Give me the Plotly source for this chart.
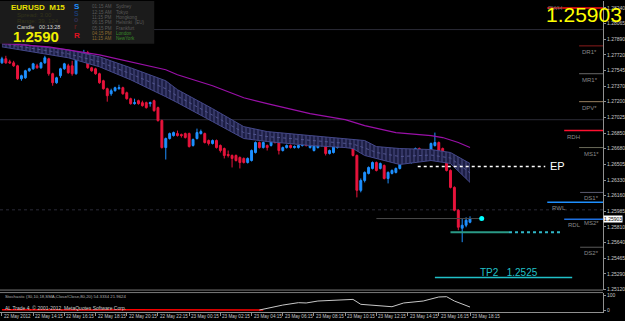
import plotly.graph_objects as go

# ---------------- data ----------------
bar_index = list(range(121))
open_ = [1.27631,1.27676,1.27642,1.27631,1.27598,1.27454,1.27465,1.27543,1.27565,1.27598,
         1.27576,1.27631,1.27676,1.27510,1.27410,1.27488,1.27565,1.27598,1.27598,1.27510,
         1.27709,1.27676,1.27742,1.27576,1.27565,1.27510,1.27432,1.27344,1.27288,1.27322,
         1.27344,1.27355,1.27299,1.27233,1.27178,1.27211,1.27189,1.27189,1.27178,1.27211,
         1.27134,1.26990,1.26691,1.26791,1.26824,1.26846,1.26835,1.26846,1.26846,1.26714,
         1.26791,1.26846,1.26846,1.26769,1.26736,1.26769,1.26714,1.26680,1.26614,1.26603,
         1.26603,1.26581,1.26570,1.26525,1.26547,1.26636,1.26747,1.26691,1.26714,1.26714,
         1.26802,1.26791,1.26658,1.26691,1.26714,1.26691,1.26691,1.26714,1.26769,1.26691,
         1.26658,1.26691,1.26714,1.26769,1.26625,1.26636,1.26691,1.26747,1.26714,1.26747,
         1.26747,1.26603,1.26216,1.26326,1.26404,1.26459,1.26525,1.26459,1.26492,1.26348,
         1.26404,1.26415,1.26459,1.26625,1.26625,1.26525,1.26570,1.26680,1.26581,1.26636,
         1.26581,1.26714,1.26747,1.26680,1.26570,1.26437,1.26249,1.25995,1.25796,1.25829,
         1.25862]
high_ = [1.27698,1.27709,1.27665,1.27653,1.27609,1.27499,1.27554,1.27576,1.27631,1.27620,
         1.27642,1.27709,1.27687,1.27521,1.27476,1.27576,1.27631,1.27620,1.27653,1.27698,
         1.27742,1.27775,1.27764,1.27587,1.27576,1.27521,1.27443,1.27355,1.27344,1.27366,
         1.27388,1.27366,1.27311,1.27244,1.27233,1.27222,1.27211,1.27200,1.27200,1.27222,
         1.27145,1.27001,1.26802,1.26857,1.26868,1.26879,1.26846,1.26857,1.26857,1.26791,
         1.26901,1.26890,1.26857,1.26780,1.26780,1.26780,1.26725,1.26691,1.26658,1.26614,
         1.26614,1.26592,1.26581,1.26581,1.26669,1.26758,1.26758,1.26758,1.26725,1.26824,
         1.26835,1.26802,1.26702,1.26725,1.26725,1.26714,1.26725,1.26780,1.26780,1.26725,
         1.26725,1.26758,1.26791,1.26780,1.26669,1.26714,1.26758,1.26769,1.26769,1.26758,
         1.26758,1.26614,1.26348,1.26426,1.26481,1.26536,1.26536,1.26525,1.26503,1.26426,
         1.26448,1.26470,1.26636,1.26636,1.26636,1.26581,1.26691,1.26691,1.26647,1.26647,
         1.26747,1.26857,1.26758,1.26691,1.26581,1.26448,1.26260,1.26006,1.25906,1.25917,
         1.25928]
low_ = [1.27620,1.27620,1.27620,1.27587,1.27443,1.27432,1.27454,1.27532,1.27554,1.27565,
        1.27565,1.27620,1.27488,1.27377,1.27399,1.27465,1.27554,1.27510,1.27488,1.27499,
        1.27665,1.27665,1.27565,1.27532,1.27499,1.27399,1.27333,1.27200,1.27266,1.27311,
        1.27333,1.27277,1.27222,1.27167,1.27167,1.27167,1.27145,1.27123,1.27145,1.27089,
        1.26979,1.26680,1.26558,1.26780,1.26813,1.26813,1.26802,1.26791,1.26691,1.26702,
        1.26780,1.26835,1.26736,1.26714,1.26725,1.26680,1.26636,1.26570,1.26581,1.26470,
        1.26536,1.26459,1.26514,1.26514,1.26536,1.26625,1.26680,1.26680,1.26658,1.26702,
        1.26736,1.26614,1.26647,1.26680,1.26680,1.26680,1.26680,1.26702,1.26702,1.26680,
        1.26647,1.26680,1.26702,1.26603,1.26614,1.26625,1.26680,1.26725,1.26702,1.26691,
        1.26592,1.26138,1.26194,1.26304,1.26393,1.26448,1.26426,1.26448,1.26337,1.26293,
        1.26393,1.26404,1.26448,1.26570,1.26514,1.26514,1.26558,1.26558,1.26570,1.26570,
        1.26570,1.26702,1.26647,1.26536,1.26426,1.26238,1.25984,1.25774,1.25641,1.25807,
        1.25851]
close_ = [1.27676,1.27631,1.27631,1.27598,1.27454,1.27488,1.27543,1.27565,1.27620,1.27576,
          1.27631,1.27687,1.27510,1.27410,1.27465,1.27565,1.27620,1.27521,1.27510,1.27687,
          1.27676,1.27742,1.27576,1.27543,1.27510,1.27410,1.27344,1.27266,1.27322,1.27355,
          1.27355,1.27288,1.27233,1.27178,1.27189,1.27178,1.27156,1.27134,1.27189,1.27100,
          1.26990,1.26691,1.26791,1.26846,1.26857,1.26824,1.26824,1.26802,1.26702,1.26780,
          1.26857,1.26868,1.26747,1.26736,1.26769,1.26691,1.26658,1.26603,1.26603,1.26570,
          1.26547,1.26525,1.26525,1.26570,1.26658,1.26747,1.26691,1.26747,1.26691,1.26802,
          1.26747,1.26658,1.26691,1.26714,1.26691,1.26702,1.26714,1.26769,1.26714,1.26714,
          1.26714,1.26747,1.26769,1.26625,1.26658,1.26702,1.26747,1.26736,1.26747,1.26702,
          1.26603,1.26216,1.26326,1.26415,1.26470,1.26525,1.26437,1.26514,1.26348,1.26415,
          1.26437,1.26459,1.26625,1.26581,1.26525,1.26570,1.26680,1.26570,1.26636,1.26581,
          1.26736,1.26747,1.26658,1.26547,1.26437,1.26249,1.25995,1.25807,1.25829,1.25884,
          1.25903]

ma_index = [0, 12, 25, 33, 42, 45, 54, 62, 68, 79, 88, 93, 101, 110, 113, 117, 120]
ma_value = [1.27847, 1.27808, 1.27720, 1.27642, 1.27554, 1.27499, 1.27377, 1.27244, 1.27178,
            1.27067, 1.27001, 1.26934, 1.26857, 1.26824, 1.26802, 1.26747, 1.26691]

band_index = [0, 8, 17, 25, 33, 42, 45, 54, 62, 68, 79, 88, 90, 93, 96, 102, 110, 115, 120]
band_top = [1.27875, 1.27819, 1.27775, 1.27698, 1.27576, 1.27432, 1.27333, 1.27122, 1.26923,
            1.26868, 1.26824, 1.26791, 1.26780, 1.26769, 1.26702, 1.26680, 1.26669, 1.26636, 1.26514]
band_bottom = [1.27808, 1.27753, 1.27687, 1.27587, 1.27443, 1.27255, 1.27189, 1.26979, 1.26791,
               1.26758, 1.26714, 1.26691, 1.26680, 1.26603, 1.26570, 1.26503, 1.26547, 1.26514, 1.26304]

stoch_main_index = [66, 72, 76, 78, 81, 89, 90, 92, 96, 100, 103, 108, 112, 114, 116, 120]
stoch_main = [0, 33, 49, 47, 60, 71, 71, 38, 30, 22, 47, 60, 87, 89, 60, 20]
stoch_signal_index = [0, 8, 16, 24, 32, 40, 48, 56, 64, 67]
stoch_signal = [1, 0, 1, 0, 2, 1, 3, 4, 2, 0]

x_tick_index = [0, 8, 16, 24, 32, 40, 48, 56, 64, 72, 80, 88, 96, 104, 112, 120]
x_tick_labels = ["22 May 2012", "22 May 14:15", "22 May 16:15", "22 May 18:15", "22 May 20:15",
                 "22 May 22:15", "23 May 00:15", "23 May 02:15", "23 May 04:15", "23 May 06:15",
                 "23 May 08:15", "23 May 10:15", "23 May 12:15", "23 May 14:15", "23 May 16:15",
                 "23 May 18:15"]
y_tick_labels = ["1.28240", "1.28065", "1.27890", "1.27720", "1.27545", "1.27370", "1.27200",
                 "1.27025", "1.26850", "1.26680", "1.26505", "1.26330", "1.26160", "1.25985",
                 "1.25810", "1.25640", "1.25465", "1.25290", "1.25120"]
y_tick_values = [float(s) for s in y_tick_labels]

level_names = ["RWH", "DR1*", "MR1*", "DPV*", "RDH", "MS1*", "DS1*", "RWL", "RDL", "DS2*"]
level_prices = [1.28240, 1.27819, 1.27510, 1.27200, 1.26879, 1.26691, 1.26193, 1.26083, 1.25895, 1.25585]
round_levels = [1.28, 1.27, 1.26]
entry_price = 1.26481
tp1_price = 1.25751
tp2_price = 1.2525
bid_price = 1.25903
bid_marker_index = 123

# ---------------- geometry helpers (pixels -> paper) ----------------
PW, PH = 606, 312
def xp(px):
    return px / PW
def yp(py):
    return 1 - py / PH

fig = go.Figure()

# band (hatched channel)
fig.add_trace(go.Scatter(x=band_index, y=band_bottom, mode='lines',
                         line=dict(color='#44488a', width=1), hoverinfo='skip'))
fig.add_trace(go.Scatter(x=band_index, y=band_top, mode='lines', fill='tonexty',
                         fillpattern=dict(shape='|', fgcolor='#6a6eb0', bgcolor='#1c1e44',
                                          size=4, solidity=0.3),
                         line=dict(color='#44488a', width=1), hoverinfo='skip'))
band_mid = [(a + b) / 2 for a, b in zip(band_top, band_bottom)]
fig.add_trace(go.Scatter(x=band_index, y=band_mid, mode='lines',
                         line=dict(color='#50548e', width=1, dash='dot'), hoverinfo='skip'))

# moving average
fig.add_trace(go.Scatter(x=ma_index, y=ma_value, mode='lines',
                         line=dict(color='#9a10a8', width=1.2), hoverinfo='skip'))

# bid line + marker
fig.add_trace(go.Scatter(x=[96, bid_marker_index], y=[bid_price, bid_price], mode='lines',
                         line=dict(color='#4a4a4a', width=1), hoverinfo='skip'))

# candles
fig.add_trace(go.Candlestick(x=bar_index, open=open_, high=high_, low=low_, close=close_,
                             increasing=dict(line=dict(color='#1E90FF', width=1), fillcolor='#1E90FF'),
                             decreasing=dict(line=dict(color='#E8143C', width=1), fillcolor='#E8143C'),
                             whiskerwidth=0, hoverinfo='skip'))

fig.add_trace(go.Scatter(x=[bid_marker_index], y=[bid_price], mode='markers',
                         marker=dict(color='#00FFFF', size=5), hoverinfo='skip'))

# stochastic
fig.add_trace(go.Scatter(x=stoch_signal_index, y=stoch_signal, mode='lines', yaxis='y2',
                         line=dict(color='#FF0000', width=1.5), hoverinfo='skip'))
fig.add_trace(go.Scatter(x=stoch_main_index, y=stoch_main, mode='lines', yaxis='y2',
                         line=dict(color='#c8c8c8', width=1), hoverinfo='skip'))

shapes = []
annotations = []

# round-number levels
for i, lv in enumerate(round_levels):
    shapes.append(dict(type='line', xref='paper', x0=0, x1=1, yref='y', y0=lv, y1=lv,
                       line=dict(color='#2a2a36', width=1, dash='dot' if i == 2 else 'solid'),
                       layer='below'))

# pivot levels (styles)
level_style = {
    "RWH": (550, '#ff1010', 1.5, None),
    "DR1*": (582, '#8b1c1c', 1, (583, 6)),
    "MR1*": (582, '#6a6a6a', 1, (583, 6)),
    "DPV*": (582, '#9a8060', 1, (583, 6)),
    "RDH": (567, '#ff1030', 1.5, (568, 6)),
    "MS1*": (582, '#6a6a5a', 1, (585, 6)),
    "DS1*": (583, '#5a5a70', 1, (585, 6)),
    "RWL": (550, '#1E90FF', 1.5, (553, 6)),
    "RDL": (567, '#1E70E0', 1.5, (569, 6)),
    "DS2*": (583, '#5a5a5a', 1, (585, 6)),
}
for name, price in zip(level_names, level_prices):
    x0px, col, w, lab = level_style[name]
    shapes.append(dict(type='line', xref='paper', x0=xp(x0px), x1=1, yref='y', y0=price, y1=price,
                       line=dict(color=col, width=w)))
    if lab:
        annotations.append(dict(x=xp(lab[0]), xref='paper', y=price, yref='y', yshift=-lab[1],
                                text=name, showarrow=False, xanchor='left', yanchor='middle',
                                font=dict(family='Liberation Sans', size=6, color='#8a8a8a')))
annotations.append(dict(x=xp(585), xref='paper', y=level_prices[8], yref='y', yshift=-4,
                        text='MS2*', showarrow=False, xanchor='left', yanchor='middle',
                        font=dict(family='Liberation Sans', size=6, color='#8a8a8a')))

# EP / TP lines
shapes.append(dict(type='line', xref='x', x0=106.6, x1=139.3, yref='y', y0=entry_price, y1=entry_price,
                   line=dict(color='#ffffff', width=1.5, dash='dot')))
annotations.append(dict(x=xp(551), xref='paper', y=entry_price, yref='y', text='EP', showarrow=False,
                        xanchor='left', yanchor='middle',
                        font=dict(family='Liberation Sans', size=11, color='#ffffff')))
shapes.append(dict(type='line', xref='x', x0=115, x1=130, yref='y', y0=tp1_price, y1=tp1_price,
                   line=dict(color='#2a9a86', width=2)))
shapes.append(dict(type='line', xref='x', x0=130, x1=143.2, yref='y', y0=tp1_price, y1=tp1_price,
                   line=dict(color='#30b8c8', width=2, dash='dot')))
shapes.append(dict(type='line', xref='x', x0=111, x1=146.2, yref='y', y0=tp2_price, y1=tp2_price,
                   line=dict(color='#20c0c8', width=1.5)))
annotations.append(dict(x=xp(480), xref='paper', y=tp2_price, yref='y', yshift=5,
                        text='TP2&nbsp;&nbsp;&nbsp;1.2525', showarrow=False,
                        xanchor='left', yanchor='middle',
                        font=dict(family='Liberation Sans', size=10, color='#20c0c8')))

# separator between panes
for py in (290, 292.5):
    shapes.append(dict(type='line', xref='paper', x0=0, x1=1, yref='paper', y0=yp(py), y1=yp(py),
                       line=dict(color='#7a7a7a', width=1)))

# info panel
shapes.append(dict(type='rect', xref='paper', yref='paper', x0=0, x1=xp(155), y0=yp(43), y1=1,
                   fillcolor='#1b1b1b', line=dict(width=0), layer='above'))

def txt(x, y, s, size, color, bold=False, family='Liberation Sans', anchor='left'):
    if bold:
        s = '<b>' + s + '</b>'
    annotations.append(dict(x=xp(x), y=yp(y), xref='paper', yref='paper', text=s, showarrow=False,
                            xanchor=anchor, yanchor='middle',
                            font=dict(family=family, size=size, color=color)))

txt(9, 6.5, 'EURUSD&nbsp;&nbsp;M15', 8, '#e8e000', bold=True)
txt(15, 14, 'Spread:&nbsp;3.00', 6, '#33331a')
txt(15, 20, 'Range:&nbsp;39,&nbsp;124', 6, '#33331a')
txt(15, 26, 'Candle&nbsp;&nbsp;&nbsp;00:13:28', 5.5, '#d8d8d8')
txt(11, 35.5, '1.2590', 15, '#f0f000', bold=True)
txt(72, 6, 'S', 8, '#1E90FF', bold=True)
txt(72, 12.5, 'S', 7, '#1a3a70', bold=True)
txt(72, 19, 'o', 7, '#303050', bold=True)
txt(72, 25.5, 'r', 7, '#5a2020', bold=True)
txt(72, 35, 'R', 8, '#e01020', bold=True)
times = ['01:15 AM', '12:15 AM', '11:15 PM', '06:15 PM', '05:15 PM', '04:15 PM', '11:15 AM']
cities = ['Sydney', 'Tokyo', 'Hongkong', 'Helsinki&nbsp;&nbsp;(EU)', 'Frankfurt', 'London', 'NewYork']
tcols = ['#5a5a5a'] * 5 + ['#8a6a30', '#8a6a30']
ccols = ['#5a5a5a'] * 5 + ['#3a8a2a', '#3a8a2a']
for k in range(7):
    yy = 5.7 + k * 5.4
    txt(90, yy, times[k].replace(' ', '&nbsp;'), 4.6, tcols[k])
    txt(115, yy, cities[k], 4.6, ccols[k])

# big price top-right
txt(549, 7, 'RWH', 6, '#6a6a6a')
txt(547, 14, '1.25903', 21, '#ffff00')

# bid label on axis
annotations.append(dict(x=1, xref='paper', y=bid_price, yref='y', text='1.25903', showarrow=False,
                        xanchor='left', yanchor='middle', bgcolor='#ffffff', borderpad=0,
                        font=dict(family='Liberation Sans', size=5, color='#000000')))

# stochastic texts
txt(3, 296.5, 'Stochastic&nbsp;(30,10,18,SMA,Close/Close,80,20)&nbsp;54.3334&nbsp;21.9624', 4.3, '#b0b0b0')
txt(3, 307.5, 'AL&nbsp;Trade&nbsp;4,&nbsp;©&nbsp;2001-2012,&nbsp;MetaQuotes&nbsp;Software&nbsp;Corp.', 5, '#d0d0d0')

# x labels
for ti, lab in zip(x_tick_index, x_tick_labels):
    annotations.append(dict(x=ti, xref='x', y=yp(317), yref='paper', text=lab.replace(' ', '&nbsp;'),
                            showarrow=False, xanchor='left', yanchor='middle', xshift=0,
                            font=dict(family='Liberation Sans', size=4.6, color='#c8c8c8')))

fig.update_layout(
    width=625, height=321,
    margin=dict(l=0, r=19, t=0, b=9),
    paper_bgcolor='#000000', plot_bgcolor='#000000',
    showlegend=False,
    shapes=shapes, annotations=annotations,
    xaxis=dict(range=[-0.5, 154.1], anchor='y2', showgrid=False, zeroline=False,
               rangeslider=dict(visible=False), tickvals=x_tick_index, ticks='outside',
               ticklen=3, tickcolor='#909090', showticklabels=False,
               showline=True, linecolor='#909090', linewidth=1),
    yaxis=dict(domain=[yp(290), 1], range=[1.251096, 1.28317], side='right', showgrid=False,
               zeroline=False, tickvals=y_tick_values, ticktext=y_tick_labels, ticks='outside',
               ticklen=2, tickcolor='#909090', showline=True, linecolor='#909090', linewidth=1,
               tickfont=dict(family='Liberation Sans', size=5, color='#c8c8c8')),
    yaxis2=dict(domain=[0, yp(293)], range=[-13.3, 113.3], side='right', showgrid=False,
                zeroline=False, tickvals=[0, 100], ticktext=['0', '100'], ticks='outside',
                ticklen=2, tickcolor='#909090', showline=True, linecolor='#909090', linewidth=1,
                anchor='x', tickfont=dict(family='Liberation Sans', size=5, color='#c8c8c8')),
)

fig.write_html("out.html")
